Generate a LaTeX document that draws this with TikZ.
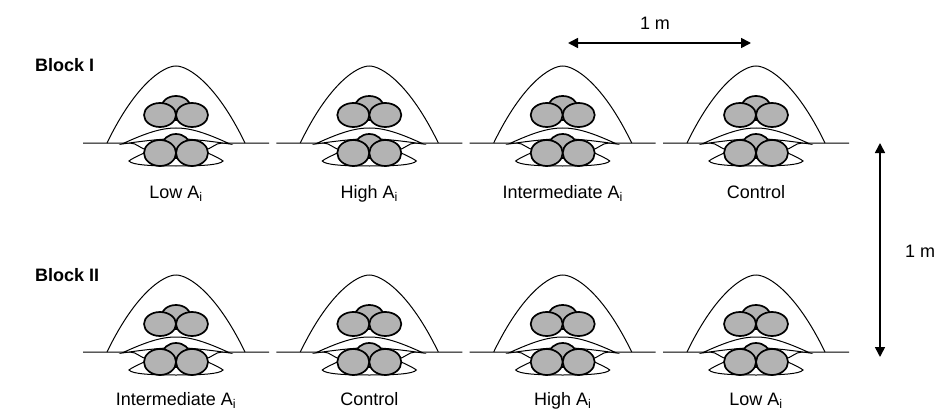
\documentclass[tikz,border=0pt]{standalone}
\usepackage{fontspec}
\setmainfont{Liberation Sans}
\usetikzlibrary{arrows.meta}
\definecolor{pilegray}{RGB}{179,179,179}
\tikzset{
  thinline/.style={line width=1pt, black},
  pilestyle/.style={draw=black, line width=1.7pt, fill=pilegray},
  dimarrow/.style={line width=1.6pt, {Triangle[length=10pt,width=10pt]}-{Triangle[length=10pt,width=10pt]}},
  lbl/.style={anchor=base, inner sep=0pt, font=\fontsize{18}{21}\selectfont},
  blk/.style={anchor=base west, inner sep=0pt, font=\fontsize{18}{21}\selectfont\bfseries},
  unit/.pic={
    % hat
    \draw[thinline] (-69,0) .. controls (-40,-60) and (-12,-77) .. (0,-77)
                            .. controls (12,-77) and (40,-60) .. (69,0);
    % ground
    \draw[thinline] (-93,0) -- (-46,0) .. controls (-39,0) and (-36,6) .. (-28,7);
    \draw[thinline] (93,0) -- (46,0) .. controls (39,0) and (36,6) .. (28,7);
    % bottom lens
    \draw[thinline] (-30,9) .. controls (-38,13) and (-45,16) .. (-47,18)
                    .. controls (-44,22) and (-25,23) .. (0,23)
                    .. controls (25,23) and (44,22) .. (47,18)
                    .. controls (45,16) and (38,13) .. (30,9);
    % upper lens
    \filldraw[thinline, fill=white] (-54,1) .. controls (-30,-10) and (-15,-15) .. (0,-15)
                    .. controls (15,-15) and (30,-10) .. (54,1)
                    .. controls (40,-1) and (25,-3) .. (10,-4) -- (-10,-4)
                    .. controls (-25,-3) and (-40,-1) .. cycle;
    % lower pile
    \path[pilestyle] (0,3) ellipse [x radius=14pt, y radius=12pt];
    \path[pilestyle] (-16,10) ellipse [x radius=16pt, y radius=13pt];
    \path[pilestyle] (16,10) ellipse [x radius=16pt, y radius=13pt];
    % upper pile
    \path[pilestyle] (0,-35) ellipse [x radius=15pt, y radius=12pt];
    \path[pilestyle] (-16,-28) ellipse [x radius=16pt, y radius=12pt];
    \path[pilestyle] (16,-28) ellipse [x radius=16pt, y radius=12pt];
  }
}
\begin{document}
\begin{tikzpicture}[x=1pt, y=-1pt]
  \fill[white] (0,0) rectangle (943,412);
  \useasboundingbox (0,0) rectangle (943,412);

  % Block I
  \node[blk] (b1) at (35,72) {Block I};
  \pic at (176,143) {unit};
  \pic at (369.3,143) {unit};
  \pic at (562.7,143) {unit};
  \pic at (756,143) {unit};
  \node[lbl] (l11) at (176,198) {Low A\textsubscript{i}};
  \node[lbl] (l12) at (369.3,198) {High A\textsubscript{i}};
  \node[lbl] (l13) at (562.7,198) {Intermediate A\textsubscript{i}};
  \node[lbl] (l14) at (756,198) {Control};

  % Block II
  \node[blk] (b2) at (35,281) {Block II};
  \pic at (176,352) {unit};
  \pic at (369.3,352) {unit};
  \pic at (562.7,352) {unit};
  \pic at (756,352) {unit};
  \node[lbl] (l21) at (176,405) {Intermediate A\textsubscript{i}};
  \node[lbl] (l22) at (369.3,405) {Control};
  \node[lbl] (l23) at (562.7,405) {High A\textsubscript{i}};
  \node[lbl] (l24) at (756,405) {Low A\textsubscript{i}};

  % dimension arrows
  \coordinate (h1) at (568,43);
  \coordinate (h2) at (751,43);
  \draw[dimarrow] (h1) -- (h2);
  \node[lbl] (hm) at (655,30) {1 m};
  \coordinate (v1) at (880,143);
  \coordinate (v2) at (880,357);
  \draw[dimarrow] (v1) -- (v2);
  \node[lbl, anchor=base west] (vm) at (905,257) {1 m};
\end{tikzpicture}
\end{document}
